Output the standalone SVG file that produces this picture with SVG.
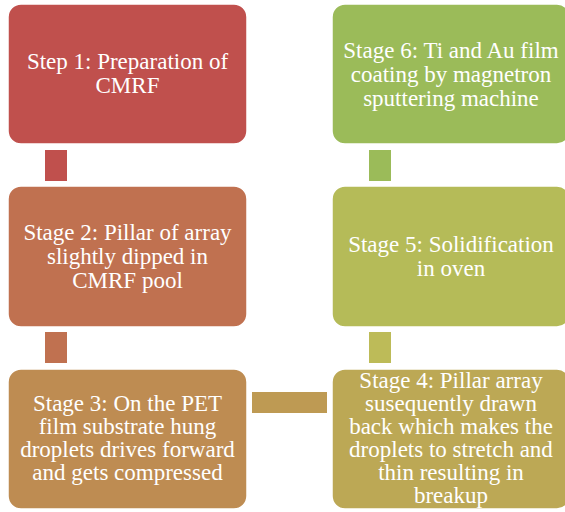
<svg xmlns="http://www.w3.org/2000/svg" width="565" height="512" viewBox="0 0 565 512">
  <style>
    .box { stroke: #ffffff; stroke-width: 1.5; }
    .lbl { font-size: 23px; fill: #ffffff; text-anchor: middle; }
  </style>
  <rect width="565" height="512" fill="#ffffff"/>

  <g id="connectors">
    <rect x="45" y="150" width="22" height="31" fill="#C0504D"/>
    <rect x="45" y="332" width="22" height="31" fill="#C07150"/>
    <rect x="252" y="392" width="75" height="21" fill="#BE9A53"/>
    <rect x="369" y="332" width="22" height="31" fill="#BDBB58"/>
    <rect x="369" y="150" width="22" height="31" fill="#9BBB59"/>
  </g>

  <g id="step1">
    <rect class="box" x="8" y="4" width="239" height="140" rx="13" fill="#C0504D"/>
    <text class="lbl" font-family="Liberation Serif, Times New Roman, DejaVu Serif, serif"><tspan x="127.5" y="69">Step 1: Preparation of</tspan><tspan x="127.5" y="93">CMRF</tspan></text>
  </g>

  <g id="stage2">
    <rect class="box" x="8" y="186" width="239" height="141" rx="13" fill="#C07150"/>
    <text class="lbl" font-family="Liberation Serif, Times New Roman, DejaVu Serif, serif"><tspan x="127.5" y="240">Stage 2: Pillar of array</tspan><tspan x="127.5" y="264">slightly dipped in</tspan><tspan x="127.5" y="288">CMRF pool</tspan></text>
  </g>

  <g id="stage3">
    <rect class="box" x="8" y="369" width="239" height="140" rx="13" fill="#BE8C52"/>
    <text class="lbl" font-family="Liberation Serif, Times New Roman, DejaVu Serif, serif"><tspan x="127.5" y="411">Stage 3: On the PET</tspan><tspan x="127.5" y="434">film substrate hung</tspan><tspan x="127.5" y="457">droplets drives forward</tspan><tspan x="127.5" y="480">and gets compressed</tspan></text>
  </g>

  <g id="stage4">
    <rect class="box" x="332" y="369" width="238" height="140" rx="13" fill="#BCA855"/>
    <text class="lbl" font-family="Liberation Serif, Times New Roman, DejaVu Serif, serif"><tspan x="451" y="388">Stage 4: Pillar array</tspan><tspan x="451" y="411">susequently drawn</tspan><tspan x="451" y="434">back which makes the</tspan><tspan x="451" y="457">droplets to stretch and</tspan><tspan x="451" y="480">thin resulting in</tspan><tspan x="451" y="503">breakup</tspan></text>
  </g>

  <g id="stage5">
    <rect class="box" x="332" y="186" width="238" height="141" rx="13" fill="#B5BB58"/>
    <text class="lbl" font-family="Liberation Serif, Times New Roman, DejaVu Serif, serif"><tspan x="451" y="252">Stage 5: Solidification</tspan><tspan x="451" y="276">in oven</tspan></text>
  </g>

  <g id="stage6">
    <rect class="box" x="332" y="4" width="238" height="140" rx="13" fill="#9BBB59"/>
    <text class="lbl" font-family="Liberation Serif, Times New Roman, DejaVu Serif, serif"><tspan x="451" y="58">Stage 6: Ti and Au film</tspan><tspan x="451" y="82">coating by magnetron</tspan><tspan x="451" y="106">sputtering machine</tspan></text>
  </g>
</svg>
